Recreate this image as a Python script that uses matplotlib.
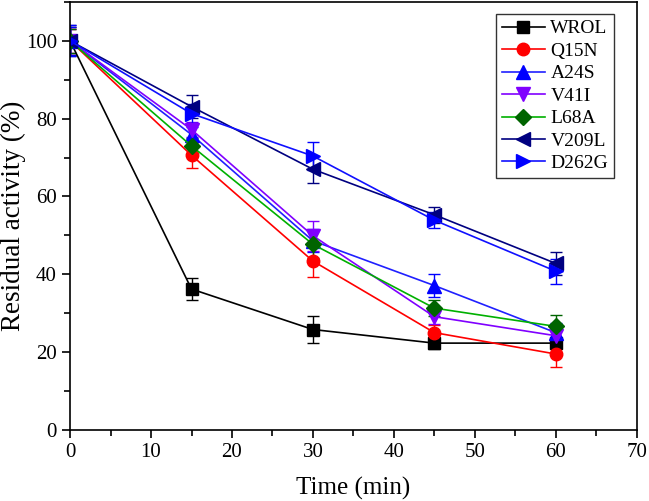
#Residual activity of WROL and its mutants over time

import matplotlib
matplotlib.use('Agg')
import matplotlib.pyplot as plt
from matplotlib.ticker import MultipleLocator

#data
time = [0, 15, 30, 45, 60]
names = ['WROL', 'Q15N', 'A24S', 'V41I', 'L68A', 'V209L', 'D262G']

wrol = [100, 36.2, 25.8, 22.3, 22.3]
q15n = [100, 70.6, 43.4, 25.0, 19.5]
a24s = [100, 75.9, 48.6, 37.1, 25.0]
v41i = [100, 77.2, 49.9, 29.1, 24.2]
l68a = [100, 73.0, 47.7, 31.3, 26.6]
v209l = [100, 83.1, 67.0, 55.3, 42.8]
d262g = [100, 81.3, 70.4, 53.9, 40.8]

wrol_err = [3.5, 2.8, 3.5, 1.5, 1.2]
q15n_err = [3.0, 3.2, 4.0, 2.0, 3.4]
a24s_err = [3.5, 2.0, 3.0, 3.0, 2.5]
v41i_err = [3.0, 2.0, 3.9, 2.0, 2.5]
l68a_err = [3.0, 2.0, 3.6, 2.0, 3.0]
v209l_err = [4.0, 3.0, 3.5, 2.0, 3.0]
d262g_err = [4.0, 2.5, 3.6, 2.0, 3.2]

series = [wrol, q15n, a24s, v41i, l68a, v209l, d262g]
errors = [wrol_err, q15n_err, a24s_err, v41i_err, l68a_err, v209l_err, d262g_err]

#styles
markers = ['s', 'o', '^', 'v', 'D', '<', '>']
msizes = [8, 9, 10, 10, 8, 10, 10]
line_colors = ['black', 'red', '#2020ff', '#8000ff', '#00b000', '#000080', '#1010ff']
marker_colors = ['black', 'red', '#0000ff', '#8000ff', '#006400', '#000080', '#0000ff']

plt.rcParams['font.family'] = ['Liberation Serif', 'DejaVu Serif']

fig = plt.figure(figsize=(6.49, 5.01), dpi=100)
ax = fig.add_axes([0.108, 0.142, 0.873, 0.854])

handles = []
for i in range(len(names)):
    eb = ax.errorbar(time, series[i], yerr=errors[i], color=line_colors[i],
                     marker=markers[i], markersize=msizes[i],
                     markerfacecolor=marker_colors[i], markeredgecolor=marker_colors[i],
                     ecolor=marker_colors[i], elinewidth=1.0, capsize=4, capthick=1.0,
                     linewidth=1.2, label=names[i])
    handles.append(eb[0])

ax.set_xlim(0, 70)
ax.set_ylim(0, 110)
ax.xaxis.set_major_locator(MultipleLocator(10))
ax.xaxis.set_minor_locator(MultipleLocator(5))
ax.yaxis.set_minor_locator(MultipleLocator(10))
ax.set_yticks([0, 20, 40, 60, 80, 100])
ax.tick_params(which='major', direction='out', length=6, width=1.2, labelsize=15,
               top=False, right=False)
ax.tick_params(which='minor', direction='out', length=4, width=1.2, top=False, right=False)
for s in ax.spines.values():
    s.set_linewidth(1.2)

ax.set_xlabel('Time (min)', fontsize=18, labelpad=11)
ax.set_ylabel('Residual activity (%)', fontsize=19.5)
ax.yaxis.set_label_coords(-0.078, 0.5)

leg = ax.legend(handles, names, loc='upper right', bbox_to_anchor=(0.96, 0.972), fontsize=14,
                frameon=True, fancybox=False, edgecolor='black', handlelength=2.2,
                labelspacing=0.25, borderpad=0.3, handletextpad=0.3, borderaxespad=0)
leg.get_frame().set_linewidth(1.0)

fig.savefig('out.png', dpi=100)
